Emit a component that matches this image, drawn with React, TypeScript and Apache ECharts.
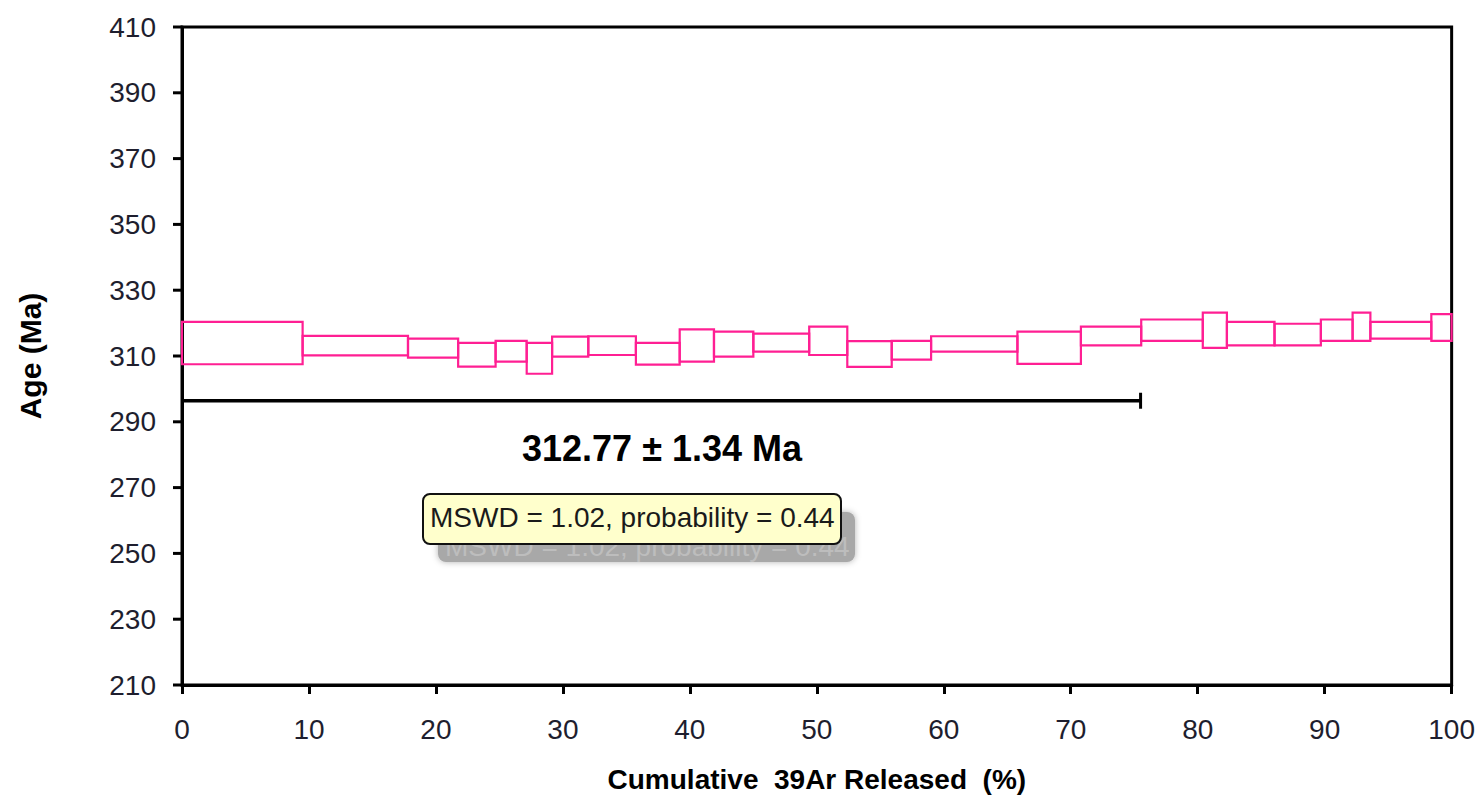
import React, { useEffect, useRef } from "react";
import * as echarts from "echarts";

// Cumulative 39Ar released (%) step boundaries
const cumulative = [0, 9.5, 17.8, 21.75, 24.7, 27.15, 29.15, 32.0, 35.75, 39.2, 41.9, 45.0, 49.4, 52.4, 55.9, 59.0, 65.8, 70.8, 75.55, 80.4, 82.3, 86.05, 89.7, 92.2, 93.6, 98.4, 100];
// Lower and upper age bounds (Ma) of each step box
const ageLow = [307.5, 310.2, 309.5, 306.8, 308.3, 304.6, 309.8, 310.3, 307.4, 308.3, 309.8, 311.3, 310.3, 306.7, 308.9, 311.3, 307.6, 313.2, 314.6, 312.5, 313.2, 313.2, 314.6, 314.6, 315.3, 314.6];
const ageHigh = [320.4, 316.1, 315.3, 314.0, 314.6, 314.0, 315.9, 316.0, 314.0, 318.1, 317.4, 316.8, 318.9, 314.5, 314.6, 316.0, 317.4, 318.9, 321.1, 323.2, 320.4, 319.8, 321.1, 323.2, 320.4, 322.7];
// Plateau bar
const plateauFrom = [0];
const plateauTo = [75.5];
const plateauAge = [296.4];
// Y-axis tick labels
const yTicks = [210, 230, 250, 270, 290, 310, 330, 350, 370, 390, 410];

const PINK = "#ff1f93";
const LABEL_FONT = "'Liberation Sans Narrow', 'Arial Narrow', 'Liberation Sans', Arial, sans-serif";
const FONT = "'Liberation Sans', Arial, sans-serif";

export default function App() {
  const ref = useRef<HTMLDivElement>(null);
  useEffect(() => {
    document.body.style.margin = "0";
    const chart = echarts.init(ref.current!, null, { renderer: "svg" });
    const steps = ageLow.map((lo, i) => [cumulative[i], cumulative[i + 1], lo, ageHigh[i]]);
    const plateau = plateauFrom.map((f, i) => [f, plateauTo[i], plateauAge[i]]);
    chart.setOption({
      animation: false,
      backgroundColor: "#fff",
      grid: {
        left: 182,
        right: 24,
        top: 27,
        bottom: 116,
        show: true,
        borderColor: "#000",
        borderWidth: 3,
      },
      xAxis: {
        type: "value",
        min: 0,
        max: 100,
        interval: 10,
        name: "Cumulative  39Ar Released  (%)",
        nameLocation: "middle",
        nameGap: 80,
        nameTextStyle: { fontFamily: FONT, fontWeight: "bold", fontSize: 28, color: "#000" },
        axisLine: { lineStyle: { color: "#000", width: 3 } },
        axisTick: { length: 9, lineStyle: { color: "#000", width: 3 } },
        axisLabel: { fontFamily: LABEL_FONT, fontSize: 28, color: "#1e1e2e", margin: 30 },
        splitLine: { show: false },
      },
      yAxis: {
        type: "value",
        min: 210,
        max: 410,
        interval: 10,
        name: "Age (Ma)",
        nameLocation: "middle",
        nameRotate: 90,
        nameGap: 137,
        nameTextStyle: { fontFamily: FONT, fontWeight: "bold", fontSize: 30, color: "#000" },
        axisLine: { lineStyle: { color: "#000", width: 3 } },
        axisTick: { show: false },
        axisLabel: {
          fontFamily: LABEL_FONT,
          fontSize: 28,
          color: "#1e1e2e",
          margin: 26,
          formatter: (v: number) => (yTicks.indexOf(v) >= 0 ? String(v) : ""),
        },
        splitLine: { show: false },
      },
      series: [
        {
          type: "custom",
          name: "yticks",
          clip: false,
          silent: true,
          data: yTicks.map((v) => [0, v]),
          renderItem: (params: any, api: any) => {
            const p = api.coord([api.value(0), api.value(1)]);
            return {
              type: "line",
              shape: { x1: p[0] - 9, y1: p[1], x2: p[0], y2: p[1] },
              style: { stroke: "#000", lineWidth: 3 },
            };
          },
        },
        {
          type: "custom",
          name: "steps",
          clip: false,
          data: steps,
          renderItem: (params: any, api: any) => {
            const a = api.coord([api.value(0), api.value(3)]);
            const b = api.coord([api.value(1), api.value(2)]);
            return {
              type: "rect",
              shape: { x: a[0], y: a[1], width: b[0] - a[0], height: b[1] - a[1] },
              style: { fill: "none", stroke: PINK, lineWidth: 2.2 },
            };
          },
        },
        {
          type: "custom",
          name: "plateau",
          clip: false,
          data: plateau,
          renderItem: (params: any, api: any) => {
            const a = api.coord([api.value(0), api.value(2)]);
            const b = api.coord([api.value(1), api.value(2)]);
            return {
              type: "group",
              children: [
                {
                  type: "line",
                  shape: { x1: a[0], y1: a[1], x2: b[0], y2: b[1] },
                  style: { stroke: "#000", lineWidth: 3.5 },
                },
                {
                  type: "line",
                  shape: { x1: b[0], y1: b[1] - 8, x2: b[0], y2: b[1] + 8 },
                  style: { stroke: "#000", lineWidth: 3 },
                },
              ],
            };
          },
        },
      ],
      graphic: [
        {
          type: "text",
          x: 662,
          y: 430,
          style: {
            text: "312.77 ± 1.34 Ma",
            font: `bold 36px ${FONT}`,
            fill: "#000",
            align: "center",
          },
        },
        {
          type: "rect",
          shape: { x: 438, y: 512, width: 417, height: 50, r: 8 },
          style: { fill: "#a8a8a8", shadowBlur: 6, shadowColor: "rgba(0,0,0,0.3)" },
        },
        {
          type: "text",
          x: 445,
          y: 532,
          style: {
            text: "MSWD = 1.02, probability = 0.44",
            font: `28px ${LABEL_FONT}`,
            fill: "#bdbdbd",
          },
        },
        {
          type: "rect",
          shape: { x: 423, y: 494, width: 418, height: 50, r: 7 },
          style: { fill: "#ffffcc", stroke: "#111", lineWidth: 2 },
        },
        {
          type: "text",
          x: 430,
          y: 503,
          style: {
            text: "MSWD = 1.02, probability = 0.44",
            font: `28px ${LABEL_FONT}`,
            lineHeight: 28,
            fill: "#1a1a1a",
          },
        },
      ],
    });
    return () => chart.dispose();
  }, []);
  return <div ref={ref} style={{ width: 1478, height: 801 }} />;
}
